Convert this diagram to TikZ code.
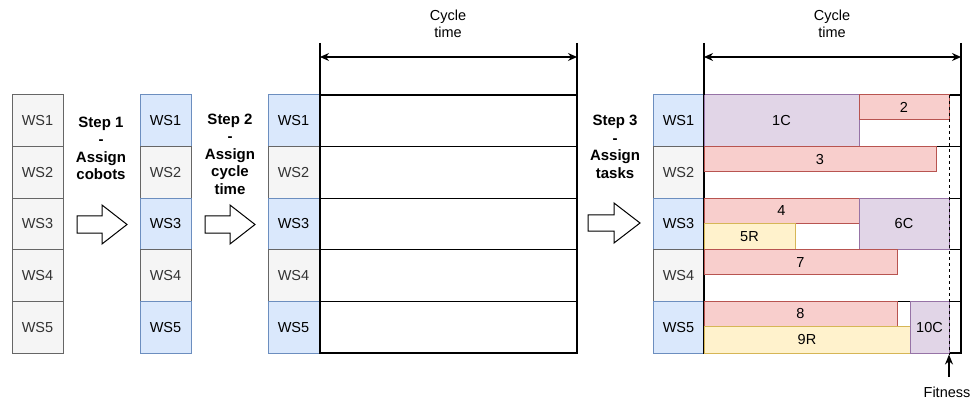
\documentclass[tikz,border=0pt]{standalone}
\usepackage{fontspec}
\setmainfont{Liberation Sans}
\usetikzlibrary{arrows.meta}
\definecolor{gfill}{HTML}{F5F5F5}
\definecolor{gline}{HTML}{666666}
\definecolor{gtext}{HTML}{333333}
\definecolor{bfill}{HTML}{DAE8FC}
\definecolor{bline}{HTML}{6C8EBF}
\definecolor{rfill}{HTML}{F8CECC}
\definecolor{rline}{HTML}{B85450}
\definecolor{yfill}{HTML}{FFF2CC}
\definecolor{yline}{HTML}{D6B656}
\definecolor{pfill}{HTML}{E1D5E7}
\definecolor{pline}{HTML}{9673A6}
\begin{document}
\begin{tikzpicture}[x=1pt,y=-1pt,
  txt/.style={font=\fontsize{14.5}{17.3}\selectfont},
  cell/.style={txt, draw, line width=1pt, minimum width=51pt, minimum height=51.6pt, anchor=north west, inner sep=0pt, outer sep=0pt},
  gcell/.style={cell, fill=gfill, draw=gline, text=gtext},
  bcell/.style={cell, fill=bfill, draw=bline},
  rowbox/.style={draw=black, line width=1.3pt, minimum width=257pt, minimum height=51.6pt, anchor=north west, inner sep=0pt, outer sep=0pt},
  task/.style={txt, line width=1pt, anchor=north west, inner sep=0pt, outer sep=0pt},
  rtask/.style={task, fill=rfill, draw=rline},
  ytask/.style={task, fill=yfill, draw=yline},
  ptask/.style={task, fill=pfill, draw=pline},
  steptext/.style={font=\bfseries\fontsize{15}{17.5}\selectfont, align=center},
  hollow/.style={draw=black, line width=1pt, fill=white, line join=miter},
  ctarrow/.style={line width=1.2pt, {Stealth[length=9pt,width=8pt]}-{Stealth[length=9pt,width=8pt]}}
]
\useasboundingbox (0,0) rectangle (973,403);

% column 1
\foreach \i in {1,...,5}
  \node[gcell] (a\i) at (12,{95+(\i-1)*51.6}) {WS\i};

% column 2
\foreach \i/\s in {1/bcell,2/gcell,3/bcell,4/gcell,5/bcell}
  \node[\s] (b\i) at (140,{95+(\i-1)*51.6}) {WS\i};

% column 3
\foreach \i/\s in {1/bcell,2/gcell,3/bcell,4/gcell,5/bcell}{
  \node[\s] (c\i) at (268,{95+(\i-1)*51.6}) {WS\i};
  \node[rowbox] (r\i) at (320,{95+(\i-1)*51.6}) {};
}

% column 4
\foreach \i/\s in {1/bcell,2/gcell,3/bcell,4/gcell,5/bcell}{
  \node[\s] (d\i) at (653,{95+(\i-1)*51.6}) {WS\i};
  \node[rowbox] (s\i) at (704,{95+(\i-1)*51.6}) {};
}

% tasks
\node[ptask, minimum width=155pt, minimum height=51.6pt] (t1) at (704,95) {1C};
\node[rtask, minimum width=90pt, minimum height=25pt] (t2) at (859,95) {2};
\node[rtask, minimum width=232pt, minimum height=25pt] (t3) at (704,146.6) {3};
\node[rtask, minimum width=155pt, minimum height=25pt] (t4) at (704,198.2) {4};
\node[ytask, minimum width=91pt, minimum height=26.6pt] (t5) at (704,223.2) {5R};
\node[ptask, minimum width=90pt, minimum height=51.6pt] (t6) at (859,198.2) {6C};
\node[rtask, minimum width=193pt, minimum height=25pt] (t7) at (704,249.8) {7};
\node[rtask, minimum width=193pt, minimum height=25pt] (t8) at (704,301.4) {8};
\node[ytask, minimum width=206pt, minimum height=26.6pt] (t9) at (704,326.4) {9R};
\node[ptask, minimum width=39pt, minimum height=51.6pt] (t10) at (910,301.4) {10C};

% dashed fitness line
\coordinate (fa) at (949,95);
\coordinate (fb) at (949,354.5);
\draw[dashed, line width=1pt] (fa) -- (fb);
\node[txt, inner sep=1pt] (fit) at (947,392) {Fitness};
\coordinate (fs) at (949,377);
\draw[line width=1.2pt, -{Stealth[length=10pt,width=8pt]}] (fs) -- (fb);

% cycle time col3
\coordinate (l3) at (320,43);
\coordinate (m3) at (577,43);
\draw[line width=1.2pt] (l3) -- (r1.north west);
\draw[line width=1.2pt] (m3) -- (r1.north east);
\coordinate (al3) at (320,57);
\coordinate (am3) at (577,57);
\draw[ctarrow] (al3) -- (am3);
\node[txt, align=center] (ct3) at (448,24) {Cycle\\time};

% cycle time col4
\coordinate (l4) at (704,43);
\coordinate (m4) at (961,43);
\draw[line width=1.2pt] (l4) -- (s1.north west);
\draw[line width=1.2pt] (m4) -- (s1.north east);
\coordinate (al4) at (704,57);
\coordinate (am4) at (961,57);
\draw[ctarrow] (al4) -- (am4);
\node[txt, align=center] (ct4) at (832,24) {Cycle\\time};

% step texts
\node[steptext] (st1) at (101,148.5) {Step 1\\-\\Assign\\cobots};
\node[steptext] (st2) at (230,154) {Step 2\\-\\Assign\\cycle\\time};
\node[steptext] (st3) at (615,147) {Step 3\\-\\Assign\\tasks};

% hollow arrows
\draw[hollow] (77,216) -- (102,216) -- (102,205) -- (127,224.5) -- (102,244) -- (102,233) -- (77,233) -- cycle;
\draw[hollow] (205,216) -- (230,216) -- (230,205) -- (255,224.5) -- (230,244) -- (230,233) -- (205,233) -- cycle;
\draw[hollow] (588,215) -- (614,215) -- (614,203) -- (640,223) -- (614,243) -- (614,231) -- (588,231) -- cycle;
\end{tikzpicture}
\end{document}
